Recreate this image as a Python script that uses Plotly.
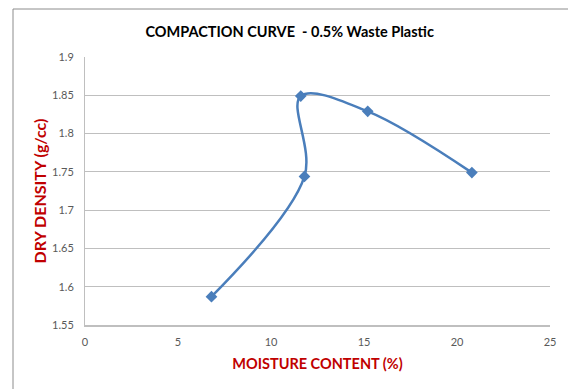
import plotly.graph_objects as go

# Compaction test results
moisture_content = [6.8, 11.8, 11.6, 15.2, 20.8]      # %
dry_density = [1.587, 1.744, 1.849, 1.829, 1.749]     # g/cc

x_ticks = [0, 5, 10, 15, 20, 25]
y_ticks = [1.55, 1.6, 1.65, 1.7, 1.75, 1.8, 1.85, 1.9]

FONT = "Lato"
RED = "#C00000"
BLUE = "#4A7EBB"
GREY_TEXT = "#595959"

# plot area size in pixels, used to place the outer frame in paper units
PW, PH = 465, 268

fig = go.Figure()
fig.add_trace(go.Scatter(
    x=moisture_content,
    y=dry_density,
    mode="lines+markers",
    line=dict(color=BLUE, width=2.5, shape="spline", smoothing=1.0),
    marker=dict(symbol="diamond", size=9, color=BLUE),
    showlegend=False,
))

fig.update_layout(
    width=568,
    height=389,
    margin=dict(l=85, r=18, t=57, b=64),
    paper_bgcolor="white",
    plot_bgcolor="white",
    font=dict(family=FONT, color=GREY_TEXT, size=11),
    title=dict(
        text="<b>COMPACTION CURVE\u00a0 - 0.5% Waste Plastic</b>",
        font=dict(family=FONT, size=14.5, color="black"),
        x=0.51, xanchor="center",
        y=1 - 32 / 389, yanchor="middle",
    ),
    xaxis=dict(
        range=[0, 25],
        tickvals=x_ticks,
        ticktext=[str(v) for v in x_ticks],
        showgrid=False,
        zeroline=False,
        showline=True,
        linecolor="#BFBFBF",
        linewidth=1.5,
        ticks="",
        tickfont=dict(size=11, color=GREY_TEXT),
        ticklabelstandoff=6,
        title=dict(
            text="<b>MOISTURE CONTENT (%)</b>",
            font=dict(family=FONT, size=14.5, color=RED),
            standoff=12,
        ),
    ),
    yaxis=dict(
        range=[1.55, 1.9],
        tickvals=y_ticks,
        ticktext=[f"{v:g}" for v in y_ticks],
        showgrid=True,
        gridcolor="#BFBFBF",
        gridwidth=1,
        zeroline=False,
        showline=True,
        linecolor="#BFBFBF",
        linewidth=1,
        ticks="",
        tickfont=dict(size=11, color=GREY_TEXT),
        ticklabelstandoff=8,
        title=dict(
            text="<b>DRY DENSITY (g/cc)</b>",
            font=dict(family=FONT, size=16, color=RED),
            standoff=1,
        ),
    ),
    shapes=[
        # outer chart frame (left and top edges)
        dict(type="line", xref="paper", yref="paper",
             x0=-72 / PW, x1=-72 / PW, y0=-70 / PH, y1=1 + 48 / PH,
             line=dict(color="#8C8C8C", width=1)),
        dict(type="line", xref="paper", yref="paper",
             x0=-72 / PW, x1=1 + 25 / PW, y0=1 + 48 / PH, y1=1 + 48 / PH,
             line=dict(color="#8C8C8C", width=1)),
    ],
)

fig.write_html("out.html")
